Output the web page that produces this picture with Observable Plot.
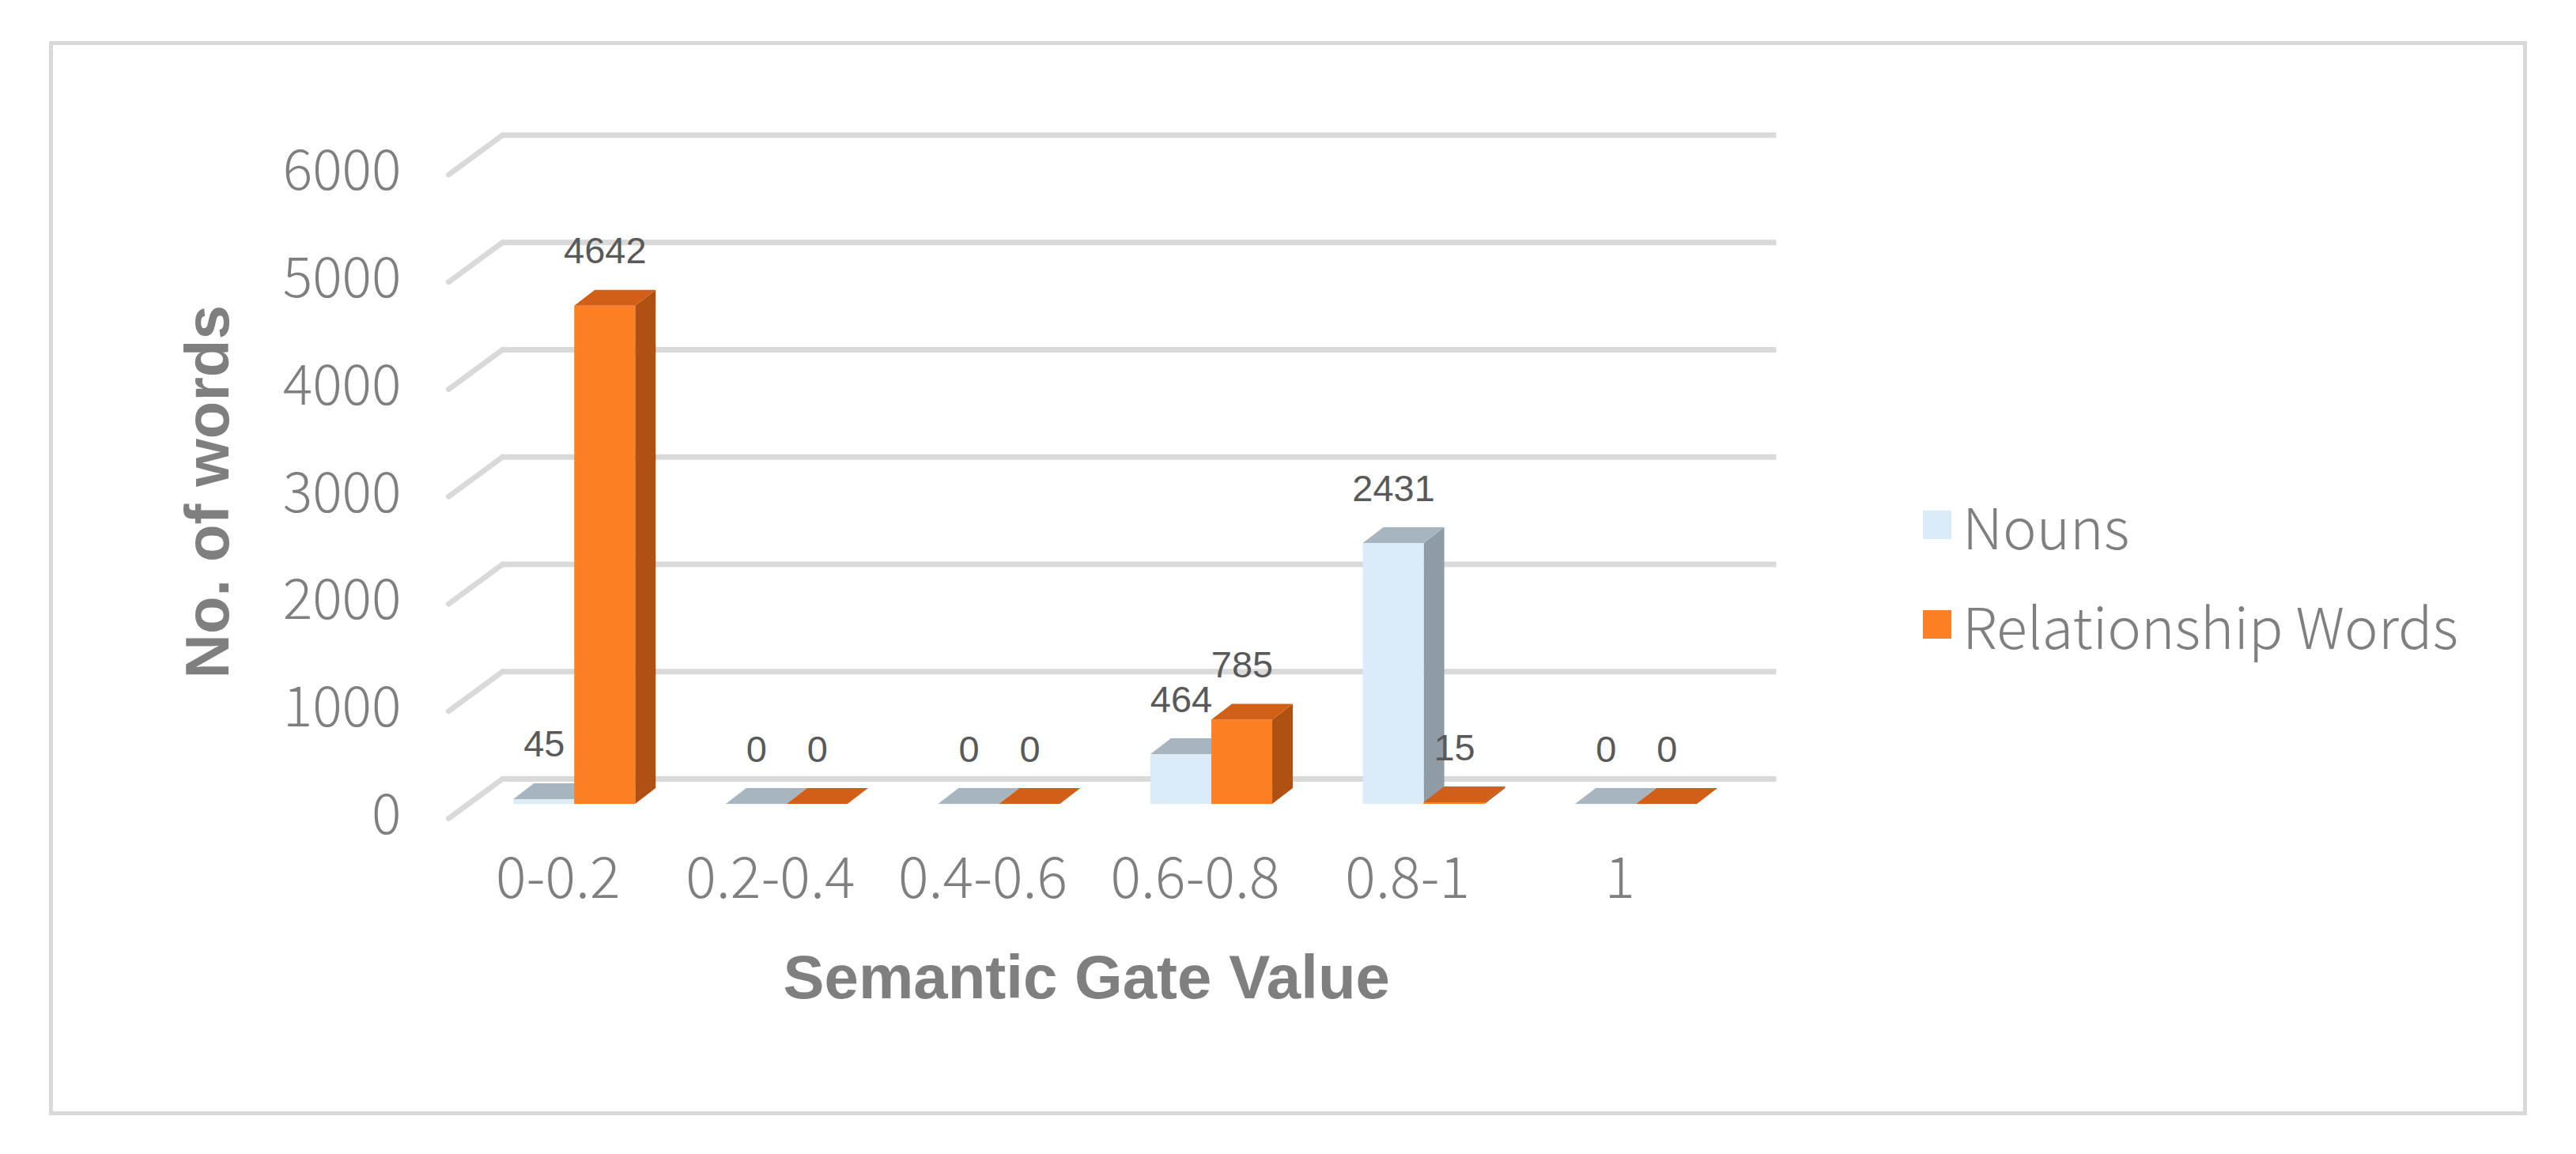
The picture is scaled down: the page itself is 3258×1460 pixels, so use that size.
<!DOCTYPE html>
<html>
<head>
<meta charset="utf-8">
<script src="https://cdn.jsdelivr.net/npm/d3@7"></script>
<script src="https://cdn.jsdelivr.net/npm/@observablehq/plot@0.6"></script>
<style>
  body { margin: 0; background: #fff; }
  #wrap { position: relative; width: 3258px; height: 1460px; overflow: hidden; background: #fff; }
  #frame { position: absolute; left: 62px; top: 52px; width: 3124px; height: 1349px; border: 5px solid #d9d9d9; }
  #chart { position: absolute; left: 0; top: 0; }
  .lg-row { position: absolute; left: 2432px; height: 72px; display: flex; align-items: center;
            font-family: "Noto Sans CJK SC", "Noto Sans", sans-serif; font-weight: 300; font-size: 72px;
            line-height: 72px; color: #7f7f7f; white-space: nowrap; }
  .lg-sw { width: 36px; height: 36px; margin-right: 14px; flex: none; }
</style>
</head>
<body>
<div id="wrap">
  <div id="frame"></div>
  <div id="chart"></div>
  <div id="legend"></div>
</div>
<script>
// ---- data ----
const categories = ["0-0.2", "0.2-0.4", "0.4-0.6", "0.6-0.8", "0.8-1", "1"];
const nouns = [45, 0, 0, 464, 2431, 0];
const relationshipWords = [4642, 0, 0, 785, 15, 0];
const seriesNames = ["Nouns", "Relationship Words"];
const yTicks = [0, 1000, 2000, 3000, 4000, 5000, 6000];

// ---- styles ----
const faceColors = {
  "Nouns": {front: "#dcebf8", top: "#a6b5c0", side: "#8f9ca6"},
  "Relationship Words": {front: "#fd7f23", top: "#d15f17", side: "#af5112"}
};

// ---- layout ----
const W = 3258, H = 1460;
const mL = 592, mR = 1054.5, mT = 202.5, mB = 443;
const kx = (W - mL - mR) / 6;      // px per category unit
const ky = (H - mT - mB) / 6000;   // px per word
const BAR_W = 77 / kx;             // bar width in category units
const DEPTH_X = 26, DEPTH_Y = 20;  // bar depth in px (oblique)
const dxu = DEPTH_X / kx, dyu = DEPTH_Y / ky;

const seriesValues = [nouns, relationshipWords];
const bars = [];
categories.forEach((c, i) => {
  seriesNames.forEach((s, j) => {
    const x1 = j === 0 ? i - BAR_W : i;
    bars.push({id: c + "|" + s, cat: c, i, series: s, value: seriesValues[j][i], x1, x2: x1 + BAR_W});
  });
});

const marks = [];
// back wall gridlines
marks.push(Plot.ruleY(yTicks, {x1: -0.5, x2: 5.5, dx: 43, dy: -32, stroke: "#d9d9d9", strokeWidth: 7}));
// left wall gridlines (diagonal)
marks.push(Plot.link(yTicks, {
  x1: -0.5, y1: d => d, x2: -0.5 + 68 / kx, y2: d => d + 50 / ky,
  dx: -25, dy: 18, stroke: "#d9d9d9", strokeWidth: 7, strokeLinecap: "round"
}));

for (const s of seriesNames) {
  const data = bars.filter(b => b.series === s);
  const col = faceColors[s];
  const sidePts = data.flatMap(b => [
    {id: b.id, x: b.x2, y1: 0, y2: b.value},
    {id: b.id, x: b.x2 + dxu, y1: dyu, y2: b.value + dyu}
  ]);
  const topPts = data.flatMap(b => [
    {id: b.id, y: b.value, x1: b.x1, x2: b.x2},
    {id: b.id, y: b.value + dyu, x1: b.x1 + dxu, x2: b.x2 + dxu}
  ]);
  marks.push(Plot.areaY(sidePts, {x: "x", y1: "y1", y2: "y2", z: "id", fill: col.side}));
  marks.push(Plot.rect(data, {x1: "x1", x2: "x2", y1: 0, y2: "value", fill: col.front}));
  marks.push(Plot.areaX(topPts, {y: "y", x1: "x1", x2: "x2", z: "id", fill: col.top}));
}

// data labels
marks.push(Plot.text(bars, {
  x: d => (d.x1 + d.x2) / 2, y: "value", text: d => String(d.value),
  dy: -69, lineAnchor: "middle", fontSize: 47, fill: "#595959",
  fontFamily: "'Liberation Sans', Arial, sans-serif", fontWeight: 400
}));

// axes
marks.push(Plot.axisY({
  ticks: yTicks, tickFormat: d => String(d), anchor: "left", tickSize: 0, tickPadding: 85,
  dy: 15, label: null, fontSize: 70, fill: "#7f7f7f"
}));
marks.push(Plot.axisX({
  ticks: d3.range(categories.length), tickFormat: i => categories[i], anchor: "bottom",
  tickSize: 0, tickPadding: 95, lineAnchor: "middle", dx: -21, label: null, fontSize: 72, fill: "#7f7f7f"
}));

// axis titles
marks.push(Plot.text(["No. of words"], {
  frameAnchor: "left", text: d => d, rotate: -90, dx: -328, dy: 12,
  textAnchor: "middle", lineAnchor: "middle",
  fontSize: 78, fontWeight: "bold", fontFamily: "'Liberation Sans', Arial, sans-serif", fill: "#7f7f7f"
}));
marks.push(Plot.text(["Semantic Gate Value"], {
  frameAnchor: "bottom", text: d => d, dx: -24, dy: 221, textAnchor: "middle", lineAnchor: "middle",
  fontSize: 78, fontWeight: "bold", fontFamily: "'Liberation Sans', Arial, sans-serif", fill: "#7f7f7f"
}));

const chart = Plot.plot({
  width: W, height: H,
  marginLeft: mL, marginRight: mR, marginTop: mT, marginBottom: mB,
  x: {type: "linear", domain: [-0.5, 5.5], axis: null},
  y: {type: "linear", domain: [0, 6000], axis: null},
  style: {
    fontFamily: "'Noto Sans CJK SC', 'Noto Sans', sans-serif", fontWeight: 300,
    fontSize: "70px", color: "#7f7f7f", background: "transparent", overflow: "visible"
  },
  marks
});
document.getElementById("chart").appendChild(chart);

// legend
const legend = document.getElementById("legend");
const legendCenters = [664, 790];
seriesNames.forEach((s, j) => {
  const row = document.createElement("div");
  row.className = "lg-row";
  row.style.top = (legendCenters[j] - 36) + "px";
  const sw = document.createElement("span");
  sw.className = "lg-sw";
  sw.style.background = faceColors[s].front;
  const tx = document.createElement("span");
  tx.textContent = s;
  row.appendChild(sw); row.appendChild(tx);
  legend.appendChild(row);
});
</script>
</body>
</html>
